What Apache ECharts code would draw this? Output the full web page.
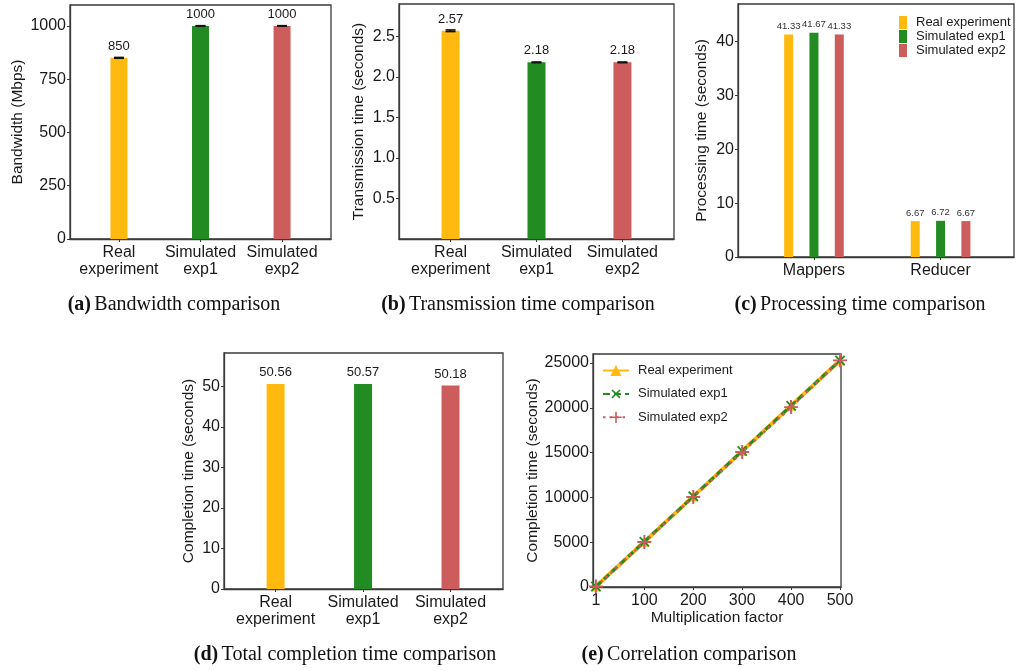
<!DOCTYPE html>
<html><head><meta charset="utf-8">
<script src="https://cdn.jsdelivr.net/npm/echarts@6/dist/echarts.min.js"></script>
<style>html,body{margin:0;padding:0;background:#fff}#c{width:1019px;height:671px}</style>
</head><body><div id="c"></div><script>
// ---------------- data ----------------
const categories = ['Real\nexperiment', 'Simulated\nexp1', 'Simulated\nexp2'];
const seriesNames = ['Real experiment', 'Simulated exp1', 'Simulated exp2'];
const bandwidth = [850, 1000, 1000];
const bandwidthErr = [2, 1, 1];
const transmission = [2.57, 2.18, 2.18];
const transmissionErr = [0.01, 0.004, 0.004];
const procGroups = ['Mappers', 'Reducer'];
const procReal = [41.33, 6.67];
const procExp1 = [41.67, 6.72];
const procExp2 = [41.33, 6.67];
const completion = [50.56, 50.57, 50.18];
const multFactors = [1, 100, 200, 300, 400, 500];
const corrReal = [51, 5056, 10112, 15168, 20224, 25280];
const corrExp1 = [51, 5057, 10114, 15171, 20228, 25285];
const corrExp2 = [50, 5018, 10036, 15054, 20072, 25290];
const yTicksA = [0, 250, 500, 750, 1000];
const yTicksB = [0.5, 1.0, 1.5, 2.0, 2.5];
const yTicksC = [0, 10, 20, 30, 40];
const yTicksD = [0, 10, 20, 30, 40, 50];
const yTicksE = [0, 5000, 10000, 15000, 20000, 25000];
const captions = [
  ['(a)', 'Bandwidth comparison'],
  ['(b)', 'Transmission time comparison'],
  ['(c)', 'Processing time comparison'],
  ['(d)', 'Total completion time comparison'],
  ['(e)', 'Correlation comparison']
];

// ---------------- style ----------------
const FONT = '"Liberation Sans", Arial, sans-serif';
const SERIF = '"Liberation Serif", "Times New Roman", serif';
const AX = '#3a3a3a';
const TXT = '#1a1a1a';
const colors = ['#FFB90F', '#228B22', '#CD5C5C'];

const gridsPos = [
  {left: 70, top: 5, width: 261, height: 234},
  {left: 399, top: 4, width: 275, height: 235},
  {left: 738, top: 4, width: 276, height: 253},
  {left: 224, top: 353, width: 279, height: 236},
  {left: 593, top: 354, width: 248, height: 233}
];
const grids = gridsPos.map(g => Object.assign({show: true, borderColor: AX, borderWidth: 1.3, backgroundColor: 'transparent'}, g));

function yAxis(gi, min, max, ticks, name, nameGap, fmt) {
  return {
    type: 'value', gridIndex: gi, min: min, max: max,
    name: name, nameLocation: 'middle', nameGap: nameGap,
    nameTextStyle: {fontFamily: FONT, fontSize: 15.5, color: TXT},
    axisLine: {show: true, onZero: false, lineStyle: {color: AX, width: 1.3}},
    splitLine: {show: false},
    axisTick: {show: true, length: 3, lineStyle: {color: AX, width: 1}, customValues: ticks},
    axisLabel: {customValues: ticks, margin: 4, fontFamily: FONT, fontSize: 16, color: TXT, formatter: fmt}
  };
}
function xAxis(gi, min, max, ticks, fmt, extra) {
  return Object.assign({
    type: 'value', gridIndex: gi, min: min, max: max,
    axisLine: {show: true, onZero: false, lineStyle: {color: AX, width: 1.3}},
    splitLine: {show: false},
    axisTick: {show: true, length: 3, lineStyle: {color: AX, width: 1}, customValues: ticks},
    axisLabel: {customValues: ticks, margin: 5, fontFamily: FONT, fontSize: 16, color: TXT, lineHeight: 17, formatter: fmt}
  }, extra || {});
}
const catFmt = v => categories[Math.round(v)];

function barLabel(arr, size, dist) {
  return {show: true, position: 'top', distance: dist, fontFamily: FONT, fontSize: size, color: TXT,
    formatter: p => String(arr[p.dataIndex])};
}
function simpleBars(gi, arr, width) {
  return {
    type: 'bar', xAxisIndex: gi, yAxisIndex: gi, barWidth: width,
    data: arr.map((v, i) => ({value: [i, v], itemStyle: {color: colors[i]}})),
    label: barLabel(arr, 13, 5), silent: true
  };
}
function errRender(params, api) {
  const x = api.value(0), v = api.value(1), e = api.value(2);
  const top = api.coord([x, v + e]), bot = api.coord([x, v - e]);
  const hw = 5;
  const st = {stroke: '#111', lineWidth: 1.6};
  return {type: 'group', children: [
    {type: 'line', shape: {x1: top[0] - hw, y1: top[1], x2: top[0] + hw, y2: top[1]}, style: st},
    {type: 'line', shape: {x1: bot[0] - hw, y1: bot[1], x2: bot[0] + hw, y2: bot[1]}, style: st},
    {type: 'line', shape: {x1: top[0], y1: top[1], x2: bot[0], y2: bot[1]}, style: st}
  ]};
}
function errSeries(gi, arr, err) {
  return {type: 'custom', xAxisIndex: gi, yAxisIndex: gi, z: 5, silent: true,
    data: arr.map((v, i) => [i, v, err[i]]), renderItem: errRender};
}

const PLUS = 'path://M4.3,0H5.7V4.3H10V5.7H5.7V10H4.3V5.7H0V4.3H4.3Z';
const corrData = [corrReal, corrExp1, corrExp2];
const lineDefs = [
  {symbol: 'triangle', symbolSize: 10, symbolRotate: 0, lineStyle: {width: 4, type: 'solid'}},
  {symbol: PLUS, symbolSize: 13, symbolRotate: 45, lineStyle: {width: 3, type: [7, 4]}},
  {symbol: PLUS, symbolSize: 14, symbolRotate: 0, lineStyle: {width: 2.5, type: [2.5, 4]}}
];
const lineSeries = seriesNames.map((n, k) => ({
  type: 'line', name: n, xAxisIndex: 4, yAxisIndex: 4, z: 3 + k,
  data: multFactors.map((x, i) => [x, corrData[k][i]]),
  symbol: lineDefs[k].symbol, symbolSize: lineDefs[k].symbolSize, symbolRotate: lineDefs[k].symbolRotate,
  showSymbol: true, showAllSymbol: true,
  itemStyle: {color: colors[k]},
  lineStyle: Object.assign({color: colors[k]}, lineDefs[k].lineStyle),
  silent: true, animation: false
}));

const procData = [procReal, procExp1, procExp2];
const procSeries = seriesNames.map((n, k) => ({
  type: 'bar', name: n, xAxisIndex: 2, yAxisIndex: 2, barWidth: 9, barGap: '-100%',
  data: procData[k].map((v, i) => [i + (k - 1) * 0.2, v]),
  itemStyle: {color: colors[k]},
  label: {show: true, position: 'top', distance: 3, fontFamily: FONT, fontSize: 9.5, color: '#333',
    formatter: p => String(procData[k][p.dataIndex])},
  silent: true
}));

const capPos = [[174, 305], [518, 305], [860, 305], [345, 655], [689, 655]];
const graphics = captions.map((c, i) => ({
  type: 'text', x: capPos[i][0], y: capPos[i][1], silent: true,
  style: {
    text: '{b|' + c[0] + '} {n|' + c[1] + '}',
    align: 'center', verticalAlign: 'middle',
    rich: {
      b: {fontFamily: SERIF, fontWeight: 'bold', fontSize: 20, fill: '#111'},
      n: {fontFamily: SERIF, fontSize: 20, fill: '#111'}
    }
  }
}));

const option = {
  backgroundColor: '#fff',
  animation: false,
  grid: grids,
  xAxis: [
    xAxis(0, -0.6, 2.6, [0, 1, 2], catFmt),
    xAxis(1, -0.6, 2.6, [0, 1, 2], catFmt),
    xAxis(2, -0.6, 1.58, [0, 1], v => procGroups[Math.round(v)]),
    xAxis(3, -0.59, 2.6, [0, 1, 2], catFmt),
    xAxis(4, -5, 502, multFactors, v => String(v), {
      name: 'Multiplication factor', nameLocation: 'middle', nameGap: 23,
      nameTextStyle: {fontFamily: FONT, fontSize: 15.5, color: TXT}
    })
  ],
  yAxis: [
    yAxis(0, 0, 1098, yTicksA, 'Bandwidth (Mbps)', 44, v => String(v)),
    yAxis(1, 0, 2.9, yTicksB, 'Transmission time (seconds)', 32, v => v.toFixed(1)),
    yAxis(2, 0, 47, yTicksC, 'Processing time (seconds)', 28, v => String(v)),
    yAxis(3, 0, 58.2, yTicksD, 'Completion time (seconds)', 27, v => String(v)),
    yAxis(4, 0, 26000, yTicksE, 'Completion time (seconds)', 51, v => String(v))
  ],
  legend: [
    {
      data: seriesNames.map(n => ({name: n, icon: 'rect'})), orient: 'vertical',
      left: 894, top: 11, itemWidth: 8, itemHeight: 13, itemGap: 1, selectedMode: false,
      textStyle: {fontFamily: FONT, fontSize: 13, color: TXT, lineHeight: 13, padding: [0, 0, 0, 4]}
    },
    {
      data: seriesNames, orient: 'vertical',
      left: 597, top: 359, itemWidth: 26, itemHeight: 14, itemGap: 9, selectedMode: false,
      textStyle: {fontFamily: FONT, fontSize: 13, color: TXT, padding: [0, 0, 0, 4]}
    }
  ],
  series: [].concat(lineSeries, [
    simpleBars(0, bandwidth, 17),
    errSeries(0, bandwidth, bandwidthErr),
    simpleBars(1, transmission, 18),
    errSeries(1, transmission, transmissionErr),
    simpleBars(3, completion, 18)
  ], procSeries),
  graphic: graphics
};
const chart = echarts.init(document.getElementById('c'), null, {renderer: 'canvas'});
chart.setOption(option);
</script></body></html>
